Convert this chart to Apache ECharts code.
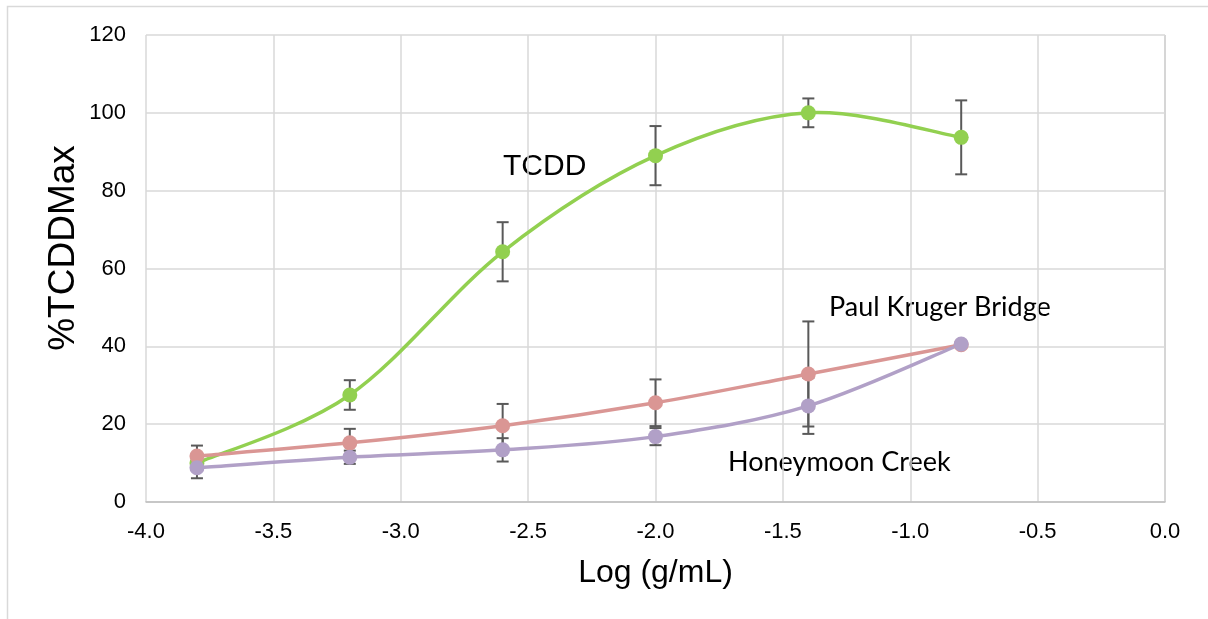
<!DOCTYPE html>
<html>
<head>
<meta charset="utf-8">
<script src="https://cdn.jsdelivr.net/npm/echarts@6/dist/echarts.min.js"></script>
<style>
  html, body { margin: 0; padding: 0; background: #fff; }
  #chart { width: 1208px; height: 619px; }
</style>
</head>
<body>
<div id="chart"></div>
<script>
// Concentrations (log g/mL) shared by all three response curves
const logConc = [-3.8, -3.2, -2.6, -2.0, -1.4, -0.8];

// Response as % of TCDD maximum, with standard deviations
const tcdd = [10.0, 27.5, 64.3, 89.0, 100.0, 93.7];
const tcddErr = [0, 3.8, 7.6, 7.6, 3.7, 9.5];

const paulKruger = [11.8, 15.2, 19.6, 25.5, 32.9, 40.4];
const paulKrugerErr = [2.7, 3.6, 5.6, 6.0, 13.5, 0];

const honeymoon = [8.8, 11.5, 13.4, 16.8, 24.7, 40.6];
const honeymoonErr = [2.7, 1.7, 3.0, 2.2, 7.2, 0];

const xTicks = { min: -4.0, max: 0.0, step: 0.5 };
const yTicks = { min: 0, max: 120, step: 20 };

const seriesLabels = ['TCDD', 'Paul Kruger Bridge', 'Honeymoon Creek'];

const FONT = 'Liberation Sans, Arial, sans-serif';

function pairs(ys) {
  return logConc.map((x, i) => [x, ys[i]]);
}
function errRows(ys, es) {
  return logConc.map((x, i) => [x, ys[i] - es[i], ys[i] + es[i]]);
}

// Vertical error bars with caps
function errorBars(rows) {
  return {
    type: 'custom',
    z: 1,
    silent: true,
    data: rows,
    renderItem: function (params, api) {
      if (api.value(2) - api.value(1) <= 0) return null;
      const lo = api.coord([api.value(0), api.value(1)]);
      const hi = api.coord([api.value(0), api.value(2)]);
      const w = 6;
      const style = { stroke: '#595959', lineWidth: 2 };
      return {
        type: 'group',
        children: [
          { type: 'line', shape: { x1: lo[0], y1: lo[1], x2: hi[0], y2: hi[1] }, style },
          { type: 'line', shape: { x1: lo[0] - w, y1: lo[1], x2: lo[0] + w, y2: lo[1] }, style },
          { type: 'line', shape: { x1: hi[0] - w, y1: hi[1], x2: hi[0] + w, y2: hi[1] }, style }
        ]
      };
    }
  };
}

// Smoothed connecting curve: Catmull-Rom style cubic segment between
// consecutive points, computed in pixel space from the axis scales.
function smoothCurve(ys, color) {
  const pts = pairs(ys);
  return {
    type: 'custom',
    z: 2,
    silent: true,
    data: pts,
    renderItem: function (params, api) {
      const i = params.dataIndex;
      if (i >= pts.length - 1) return null;
      const P = k => api.coord(pts[Math.max(0, Math.min(pts.length - 1, k))]);
      const p0 = P(i - 1), p1 = P(i), p2 = P(i + 1), p3 = P(i + 2);
      const c1 = [p1[0] + (p2[0] - p0[0]) / 6, p1[1] + (p2[1] - p0[1]) / 6];
      const c2 = [p2[0] - (p3[0] - p1[0]) / 6, p2[1] - (p3[1] - p1[1]) / 6];
      return {
        type: 'bezierCurve',
        shape: { x1: p1[0], y1: p1[1], cpx1: c1[0], cpy1: c1[1], cpx2: c2[0], cpy2: c2[1], x2: p2[0], y2: p2[1] },
        style: { stroke: color, lineWidth: 3.5, fill: 'none', lineCap: 'round' }
      };
    }
  };
}

function markers(name, ys, color) {
  return {
    name: name,
    type: 'scatter',
    z: 3,
    data: pairs(ys),
    symbol: 'circle',
    symbolSize: 15,
    itemStyle: { color: color, opacity: 1 },
    emphasis: { disabled: true }
  };
}

const colors = ['#92d050', '#da9694', '#b1a0c7'];

const chart = echarts.init(document.getElementById('chart'), null, { renderer: 'canvas' });

chart.setOption({
  animation: false,
  backgroundColor: '#fff',
  grid: { left: 146, right: 43, top: 35, bottom: 117, containLabel: false },
  xAxis: {
    type: 'value',
    min: xTicks.min, max: xTicks.max, interval: xTicks.step,
    name: 'Log (g/mL)',
    nameLocation: 'middle',
    nameGap: 55,
    nameTextStyle: { fontFamily: FONT, fontSize: 32, color: '#000' },
    axisLine: { show: true, lineStyle: { color: '#bfbfbf', width: 1.5 } },
    axisTick: { show: false },
    axisLabel: {
      fontFamily: FONT, fontSize: 22, color: '#000', margin: 19,
      formatter: v => v.toFixed(1)
    },
    splitLine: { show: true, lineStyle: { color: '#d9d9d9', width: 1.5 } }
  },
  yAxis: {
    type: 'value',
    min: yTicks.min, max: yTicks.max, interval: yTicks.step,
    axisLine: { show: false },
    axisTick: { show: false },
    axisLabel: { fontFamily: FONT, fontSize: 22, color: '#000', margin: 20 },
    splitLine: { show: true, lineStyle: { color: '#d9d9d9', width: 1.5 } }
  },
  series: [
    errorBars(errRows(tcdd, tcddErr)),
    errorBars(errRows(paulKruger, paulKrugerErr)),
    errorBars(errRows(honeymoon, honeymoonErr)),
    smoothCurve(tcdd, colors[0]),
    smoothCurve(paulKruger, colors[1]),
    smoothCurve(honeymoon, colors[2]),
    markers(seriesLabels[0], tcdd, colors[0]),
    markers(seriesLabels[1], paulKruger, colors[1]),
    markers(seriesLabels[2], honeymoon, colors[2])
  ],
  graphic: [
    {
      type: 'rect', silent: true, z: -1,
      shape: { x: 7.5, y: 6.5, width: 1230, height: 640 },
      style: { fill: 'none', stroke: '#d9d9d9', lineWidth: 1.5 }
    },
    {
      type: 'rect', silent: true, z: 0,
      shape: { x: 1165, y: 35, width: 0, height: 467 },
      style: { fill: 'none', stroke: '#bfbfbf', lineWidth: 1.5 }
    },
    {
      type: 'text', x: 64, y: 248, rotation: Math.PI / 2,
      style: { text: '%TCDDMax', fontFamily: FONT, fontSize: 37, fill: '#000', align: 'center', verticalAlign: 'middle' }
    },
    {
      type: 'text', left: 503, top: 152,
      style: { text: seriesLabels[0], fontFamily: FONT, fontSize: 30, fill: '#000' }
    },
    {
      type: 'text', left: 829, top: 294,
      style: { text: seriesLabels[1], fontFamily: 'Lato', fontSize: 27, fill: '#000' }
    },
    {
      type: 'text', left: 728, top: 449,
      style: { text: seriesLabels[2], fontFamily: 'Lato', fontSize: 27, fill: '#000' }
    }
  ]
});
</script>
</body>
</html>
